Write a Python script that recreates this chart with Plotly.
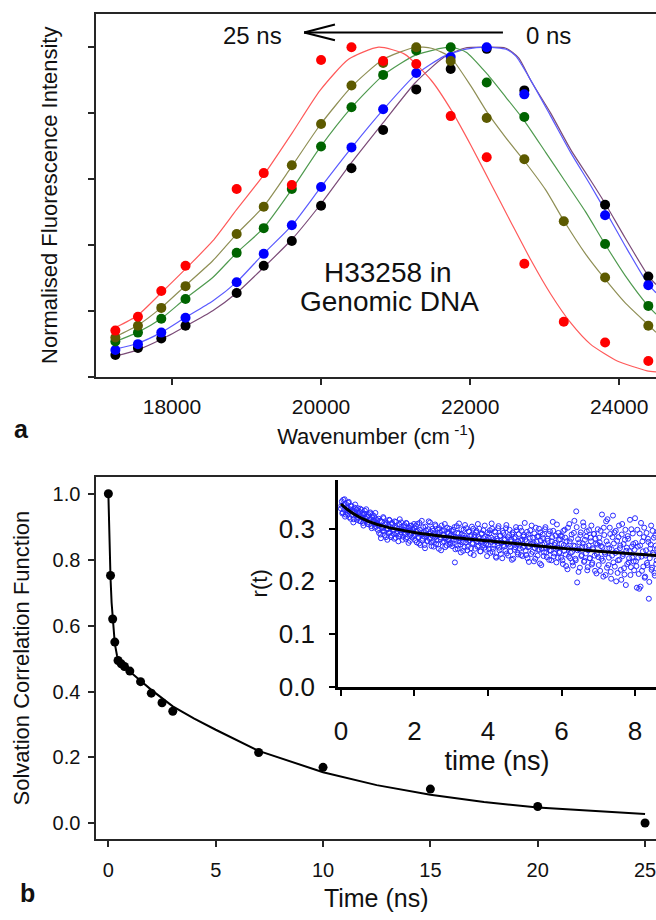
import plotly.graph_objects as go

W, H = 656, 920

# ---------------- panel a : time-resolved emission spectra ----------------
wavenumber = [17241, 17544, 17857, 18182, 18868, 19231, 19608, 20000, 20408,
              20833, 21277, 21739, 22222, 22727, 23256, 23810, 24390]
spec_25ns = [0.140, 0.182, 0.260, 0.337, 0.570, 0.618, 0.582, 0.961, 1.000,
             0.958, 0.949, 0.791, 0.666, 0.343, 0.167, 0.104, 0.048]
spec_olive = [0.119, 0.155, 0.209, 0.275, 0.433, 0.516, 0.642, 0.767, 0.884,
              0.952, 1.000, 0.958, 0.785, 0.660, 0.472, 0.301, 0.155]
spec_green = [0.107, 0.134, 0.176, 0.236, 0.376, 0.451, 0.570, 0.699, 0.818,
              0.916, 0.990, 1.000, 0.893, 0.788, None, 0.403, 0.215]
spec_blue = [0.081, 0.099, 0.134, 0.179, 0.287, 0.373, 0.460, 0.576, 0.696,
             0.812, 0.922, 0.970, 1.000, 0.857, None, 0.490, 0.278]
spec_0ns = [0.066, 0.087, 0.116, 0.155, 0.254, 0.337, 0.412, 0.519, 0.633,
            0.749, 0.872, 0.934, 0.995, 0.869, None, 0.522, 0.304]

# fitted line shapes
fit_red_x = [17240, 17533, 17853, 18173, 18547, 18867, 19240, 19613, 19987, 20373,
             20773, 21120, 21480, 21747, 22013, 22280, 22547, 22813, 23080, 23347,
             23613, 23973, 24373, 24493]
fit_red_y = [0.149, 0.185, 0.254, 0.325, 0.412, 0.507, 0.615, 0.740, 0.869, 0.964,
             1.000, 0.979, 0.899, 0.809, 0.701, 0.585, 0.469, 0.355, 0.251, 0.164,
             0.099, 0.048, 0.018, 0.015]
fit_olive_x = [17240, 17533, 17853, 18173, 18547, 18867, 19227, 19600, 19987, 20413,
               20840, 21267, 21480, 21733, 22013, 22227, 22480, 22720, 23013, 23253,
               23547, 23800, 24080, 24387, 24493]
fit_olive_y = [0.122, 0.155, 0.209, 0.275, 0.352, 0.433, 0.516, 0.636, 0.764, 0.881,
               0.964, 1.000, 0.997, 0.970, 0.881, 0.803, 0.725, 0.657, 0.567, 0.475,
               0.373, 0.299, 0.224, 0.158, 0.135]
fit_green_x = [17240, 17533, 17853, 18173, 18547, 18867, 19227, 19613, 19987, 20413,
               20840, 21267, 21733, 21947, 22227, 22480, 22720, 23013, 23253, 23547,
               23800, 24080, 24387, 24493]
fit_green_y = [0.107, 0.134, 0.176, 0.236, 0.301, 0.376, 0.451, 0.570, 0.696, 0.818,
               0.916, 0.976, 1.000, 0.985, 0.919, 0.848, 0.779, 0.681, 0.600, 0.501,
               0.406, 0.307, 0.215, 0.190]
fit_blue_x = [17240, 17533, 17853, 18173, 18547, 18867, 19227, 19613, 20000, 20413,
              20840, 21267, 21653, 21947, 22227, 22480, 22613, 22787, 23080, 23347,
              23613, 23813, 24080, 24387, 24493]
fit_blue_y = [0.084, 0.101, 0.134, 0.179, 0.230, 0.287, 0.373, 0.460, 0.576, 0.696,
              0.812, 0.916, 0.973, 0.994, 1.000, 0.994, 0.973, 0.910, 0.791, 0.681,
              0.582, 0.504, 0.397, 0.281, 0.255]
fit_0ns_x = [17240, 17533, 17853, 18173, 18547, 18867, 19227, 19613, 20000, 20413,
             20840, 21267, 21653, 21920, 22213, 22480, 22653, 22813, 23080, 23347,
             23613, 23813, 24080, 24387, 24493]
fit_0ns_y = [0.063, 0.081, 0.113, 0.152, 0.200, 0.254, 0.331, 0.418, 0.525, 0.651,
             0.773, 0.893, 0.970, 0.997, 1.000, 0.997, 0.967, 0.899, 0.800, 0.690,
             0.597, 0.525, 0.421, 0.307, 0.280]

# ---------------- panel b : solvation correlation function ----------------
scf_time = [0, 0.1, 0.2, 0.3, 0.45, 0.6, 0.75, 1.0, 1.5, 2.0, 2.5, 3.0, 7, 10, 15, 20, 25]
scf_value = [1.0, 0.752, 0.620, 0.550, 0.494, 0.484, 0.476, 0.462, 0.430, 0.395,
             0.366, 0.340, 0.215, 0.170, 0.104, 0.051, 0.001]
scf_fit_t = [0, 0.03, 0.07, 0.1, 0.15, 0.2, 0.25, 0.3, 0.4, 0.5, 0.7, 1.0, 1.5, 2, 3,
             4, 5, 7, 10, 12.5, 15, 17.5, 20, 22.5, 25]
scf_fit_v = [1.0, 0.90, 0.80, 0.745, 0.670, 0.620, 0.575, 0.545, 0.510, 0.492, 0.477,
             0.460, 0.432, 0.405, 0.355, 0.318, 0.284, 0.220, 0.155, 0.116, 0.087,
             0.065, 0.048, 0.037, 0.028]

# inset : anisotropy decay r(t); two interleaved channels, each sampled every 0.025 ns
aniso_dt = 0.0125
aniso_r_a = [
    0.338, 0.352, 0.331, 0.345, 0.356, 0.327, 0.341, 0.334, 0.349, 0.322,
    0.337, 0.344, 0.326, 0.333, 0.318, 0.340, 0.329, 0.336, 0.321, 0.331,
    0.315, 0.338, 0.324, 0.329, 0.311, 0.327, 0.334, 0.319, 0.323, 0.309,
    0.326, 0.317, 0.331, 0.305, 0.321, 0.313, 0.324, 0.302, 0.318, 0.311,
    0.298, 0.319, 0.306, 0.289, 0.314, 0.301, 0.322, 0.295, 0.308, 0.284,
    0.311, 0.299, 0.292, 0.316, 0.303, 0.287, 0.309, 0.297, 0.281, 0.305,
    0.313, 0.291, 0.300, 0.286, 0.318, 0.294, 0.303, 0.279, 0.298, 0.307,
    0.289, 0.311, 0.284, 0.296, 0.302, 0.277, 0.305, 0.292, 0.299, 0.286,
    0.301, 0.278, 0.295, 0.309, 0.284, 0.272, 0.298, 0.288, 0.315, 0.281,
    0.293, 0.269, 0.304, 0.286, 0.277, 0.299, 0.291, 0.312, 0.274, 0.287,
    0.296, 0.266, 0.283, 0.305, 0.279, 0.292, 0.270, 0.301, 0.284, 0.259,
    0.296, 0.288, 0.276, 0.309, 0.282, 0.268, 0.293, 0.280, 0.300, 0.273,
    0.289, 0.267, 0.298, 0.279, 0.236, 0.284, 0.305, 0.262, 0.291, 0.276,
    0.270, 0.299, 0.283, 0.258, 0.287, 0.307, 0.274, 0.281, 0.266, 0.295,
    0.278, 0.253, 0.288, 0.271, 0.300, 0.284, 0.262, 0.293, 0.276, 0.309,
    0.268, 0.281, 0.257, 0.290, 0.275, 0.297, 0.264, 0.285, 0.271, 0.248,
    0.283, 0.262, 0.297, 0.275, 0.310, 0.256, 0.280, 0.268, 0.293, 0.245,
    0.277, 0.301, 0.264, 0.286, 0.252, 0.274, 0.296, 0.269, 0.281, 0.258,
    0.307, 0.272, 0.249, 0.288, 0.266, 0.279, 0.241, 0.293, 0.271, 0.260,
    0.284, 0.297, 0.255, 0.276, 0.268, 0.302, 0.250, 0.279, 0.264, 0.288,
    0.311, 0.258, 0.276, 0.244, 0.289, 0.266, 0.297, 0.252, 0.271, 0.283,
    0.238, 0.263, 0.302, 0.275, 0.249, 0.286, 0.260, 0.293, 0.231, 0.270,
    0.282, 0.255, 0.299, 0.264, 0.246, 0.277, 0.290, 0.259, 0.268, 0.240,
    0.284, 0.296, 0.253, 0.273, 0.262, 0.308, 0.245, 0.279, 0.256, 0.287,
    0.271, 0.240, 0.296, 0.258, 0.283, 0.229, 0.265, 0.302, 0.247, 0.276,
    0.254, 0.289, 0.236, 0.268, 0.315, 0.243, 0.333, 0.198, 0.280, 0.261,
    0.226, 0.293, 0.250, 0.272, 0.305, 0.239, 0.266, 0.285, 0.221, 0.259,
    0.297, 0.244, 0.276, 0.232, 0.263, 0.290, 0.249, 0.281, 0.215, 0.270,
    0.246, 0.283, 0.220, 0.267, 0.327, 0.239, 0.302, 0.255, 0.212, 0.276,
    0.318, 0.231, 0.263, 0.290, 0.205, 0.249, 0.325, 0.272, 0.228, 0.296,
    0.258, 0.216, 0.284, 0.241, 0.268, 0.203, 0.309, 0.252, 0.225, 0.279,
    0.193, 0.264, 0.286, 0.236, 0.257, 0.212, 0.299, 0.245, 0.271, 0.221,
    0.320, 0.238, 0.188, 0.266, 0.214, 0.291, 0.190, 0.247, 0.276, 0.228,
    0.302, 0.209, 0.259, 0.235, 0.281, 0.167, 0.244, 0.270, 0.222, 0.296,
    0.251, 0.216, 0.287, 0.233, 0.262,
]
aniso_r_b = [
    0.344, 0.329, 0.355, 0.336, 0.323, 0.347, 0.339, 0.328, 0.351, 0.333,
    0.319, 0.342, 0.335, 0.312, 0.330, 0.346, 0.325, 0.317, 0.339, 0.327,
    0.332, 0.314, 0.336, 0.320, 0.306, 0.328, 0.316, 0.337, 0.322, 0.313,
    0.308, 0.329, 0.318, 0.301, 0.326, 0.315, 0.309, 0.330, 0.304, 0.316,
    0.307, 0.292, 0.315, 0.282, 0.303, 0.296, 0.320, 0.288, 0.309, 0.300,
    0.279, 0.306, 0.317, 0.293, 0.284, 0.311, 0.298, 0.290, 0.314, 0.283,
    0.302, 0.295, 0.276, 0.308, 0.289, 0.312, 0.297, 0.285, 0.304, 0.292,
    0.281, 0.310, 0.294, 0.273, 0.301, 0.288, 0.306, 0.283, 0.295, 0.309,
    0.287, 0.305, 0.274, 0.296, 0.283, 0.311, 0.269, 0.292, 0.278, 0.303,
    0.285, 0.263, 0.297, 0.289, 0.276, 0.314, 0.281, 0.294, 0.267, 0.300,
    0.277, 0.290, 0.308, 0.271, 0.286, 0.298, 0.262, 0.293, 0.280, 0.306,
    0.274, 0.289, 0.297, 0.265, 0.283, 0.302, 0.278, 0.291, 0.270, 0.287,
    0.296, 0.272, 0.285, 0.303, 0.261, 0.279, 0.292, 0.268, 0.310, 0.282,
    0.255, 0.289, 0.274, 0.298, 0.265, 0.283, 0.301, 0.259, 0.277, 0.294,
    0.286, 0.263, 0.304, 0.273, 0.250, 0.288, 0.279, 0.296, 0.266, 0.284,
    0.300, 0.257, 0.275, 0.291, 0.269, 0.282, 0.306, 0.260, 0.278, 0.293,
    0.269, 0.291, 0.254, 0.283, 0.300, 0.262, 0.276, 0.295, 0.247, 0.281,
    0.268, 0.305, 0.259, 0.287, 0.273, 0.244, 0.292, 0.266, 0.279, 0.301,
    0.253, 0.284, 0.270, 0.298, 0.257, 0.276, 0.289, 0.243, 0.282, 0.265,
    0.303, 0.271, 0.251, 0.290, 0.262, 0.278, 0.296, 0.248, 0.285, 0.267,
    0.279, 0.250, 0.294, 0.265, 0.237, 0.283, 0.271, 0.306, 0.256, 0.274,
    0.291, 0.243, 0.268, 0.285, 0.260, 0.300, 0.234, 0.277, 0.262, 0.289,
    0.248, 0.272, 0.303, 0.255, 0.281, 0.266, 0.241, 0.295, 0.258, 0.276,
    0.313, 0.247, 0.269, 0.287, 0.236, 0.264, 0.292, 0.254, 0.280, 0.245,
    0.285, 0.233, 0.269, 0.298, 0.251, 0.276, 0.223, 0.262, 0.309, 0.244,
    0.281, 0.256, 0.230, 0.292, 0.267, 0.240, 0.303, 0.259, 0.218, 0.274,
    0.288, 0.248, 0.265, 0.312, 0.237, 0.279, 0.253, 0.295, 0.227, 0.268,
    0.244, 0.283, 0.306, 0.235, 0.261, 0.290, 0.220, 0.272, 0.252, 0.299,
    0.231, 0.274, 0.296, 0.243, 0.265, 0.209, 0.288, 0.252, 0.314, 0.226,
    0.270, 0.245, 0.302, 0.218, 0.261, 0.284, 0.236, 0.293, 0.254, 0.200,
    0.277, 0.240, 0.306, 0.263, 0.222, 0.289, 0.248, 0.271, 0.213, 0.298,
    0.258, 0.233, 0.281, 0.244, 0.317, 0.227, 0.266, 0.291, 0.238, 0.260,
    0.273, 0.229, 0.298, 0.245, 0.186, 0.268, 0.311, 0.220, 0.257, 0.284,
    0.207, 0.249, 0.292, 0.231, 0.275, 0.199, 0.262, 0.306, 0.226, 0.254,
    0.283, 0.211, 0.268, 0.240, 0.295,
]
aniso_r = [v for pair in zip(aniso_r_a, aniso_r_b) for v in pair]
aniso_t = [i * aniso_dt for i in range(len(aniso_r))]
aniso_fit_t = [0, 0.15, 0.4, 0.75, 1.2, 2, 3, 4, 5, 6, 7, 8, 8.6]
aniso_fit_r = [0.347, 0.338, 0.326, 0.314, 0.304, 0.293, 0.284, 0.277, 0.270,
               0.263, 0.257, 0.252, 0.249]

FONT = "Liberation Sans, Arial, sans-serif"
AX = "#262626"


def px(x):
    return x / W


def py(y):
    return 1 - y / H


fig = go.Figure()

# panel a fits (drawn under the points)
fits = [
    (fit_0ns_x, fit_0ns_y, "#7b4b78"),
    (fit_blue_x, fit_blue_y, "#5a5aff"),
    (fit_green_x, fit_green_y, "#4f9a4f"),
    (fit_olive_x, fit_olive_y, "#8f8f55"),
    (fit_red_x, fit_red_y, "#ff5a5a"),
]
for fx, fy, col in fits:
    fig.add_trace(go.Scatter(x=fx, y=fy, mode="lines", line=dict(color=col, width=1.2, shape="spline", smoothing=0.6),
                             xaxis="x", yaxis="y", hoverinfo="skip"))

pts = [
    (spec_0ns, "#000000"),
    (spec_blue, "#0000ff"),
    (spec_green, "#006400"),
    (spec_olive, "#5c5a00"),
    (spec_25ns, "#ff0000"),
]
for vals, col in pts:
    fig.add_trace(go.Scatter(x=wavenumber, y=vals, mode="markers",
                             marker=dict(color=col, size=10, line=dict(width=0)),
                             xaxis="x", yaxis="y"))

# panel b
fig.add_trace(go.Scatter(x=scf_fit_t, y=scf_fit_v, mode="lines", line=dict(color="black", width=2),
                         xaxis="x2", yaxis="y2"))
fig.add_trace(go.Scatter(x=scf_time, y=scf_value, mode="markers", marker=dict(color="black", size=9),
                         xaxis="x2", yaxis="y2"))

# inset
fig.add_trace(go.Scatter(x=aniso_t, y=aniso_r, mode="markers",
                         marker=dict(symbol="circle-open", color="#2a2aff", size=5, line=dict(width=1)),
                         xaxis="x3", yaxis="y3"))
fig.add_trace(go.Scatter(x=aniso_fit_t, y=aniso_fit_r, mode="lines", line=dict(color="black", width=3, shape="spline"),
                         xaxis="x3", yaxis="y3"))

axis_common = dict(showgrid=False, zeroline=False, showline=True, linecolor=AX, linewidth=2,
                   ticks="outside", tickcolor=AX, tickwidth=1.5, ticklen=6,
                   tickfont=dict(family=FONT, size=20, color="#111"))

fig.update_layout(
    width=W, height=H, margin=dict(l=0, r=0, t=0, b=0), autosize=False,
    paper_bgcolor="white", plot_bgcolor="white", showlegend=False,
    font=dict(family=FONT, color="#111"),
    xaxis=dict(axis_common, domain=[px(93), 1], range=[16987, 24493], anchor="y", mirror=True,
               tickvals=[18000, 20000, 22000, 24000], ticktext=["18000", "20000", "22000", "24000"],
               tickfont=dict(family=FONT, size=21, color="#111"), ticklabelstandoff=4,
               ticklabeloverflow="allow",
               title=dict(text="Wavenumber (cm<sup> -1</sup>)", font=dict(family=FONT, size=22), standoff=12)),
    yaxis=dict(axis_common, domain=[py(383), py(14)], range=[0, 1.1015], anchor="x",
               tickvals=[0, 0.2, 0.4, 0.6, 0.8, 1.0], showticklabels=False,
               title=dict(text="Normalised Fluorescence Intensity", font=dict(family=FONT, size=22), standoff=25)),
    xaxis2=dict(axis_common, domain=[px(93), 1], range=[-0.556, 25.51], anchor="y2", mirror=True,
                tickvals=[0, 5, 10, 15, 20, 25], ticklabelstandoff=6, ticklabeloverflow="allow",
                title=dict(text="Time (ns)", font=dict(family=FONT, size=25), standoff=9)),
    yaxis2=dict(axis_common, domain=[py(853), py(485)], range=[-0.0478, 1.0507], anchor="x2",
                tickvals=[0, 0.2, 0.4, 0.6, 0.8, 1.0], tickformat=".1f", ticklabelstandoff=4,
                title=dict(text="Solvation Correlation Function", font=dict(family=FONT, size=22), standoff=17)),
    xaxis3=dict(axis_common, domain=[px(336), 1], range=[-0.081, 8.57], anchor="y3",
                linecolor="black", linewidth=2.5, tickcolor="black", tickwidth=2, ticklen=7,
                tickvals=[0, 2, 4, 6, 8], tickfont=dict(family=FONT, size=26, color="#111"),
                ticklabelstandoff=12, ticklabeloverflow="allow",
                title=dict(text="time (ns)", font=dict(family=FONT, size=27), standoff=3)),
    yaxis3=dict(axis_common, domain=[py(698), py(488)], range=[0, 0.3925], anchor="x3",
                linecolor="black", linewidth=2.5, tickcolor="black", tickwidth=2, ticklen=6,
                tickvals=[0, 0.1, 0.2, 0.3], tickformat=".1f", tickfont=dict(family=FONT, size=26, color="#111"),
                ticklabelstandoff=9,
                title=dict(text="r(t)", font=dict(family=FONT, size=22), standoff=6)),
)

# arrow 0 ns -> 25 ns
shape_line = dict(color="black", width=2)
fig.add_shape(type="line", xref="paper", yref="paper", x0=px(302), x1=px(502), y0=py(33), y1=py(33), line=shape_line)
fig.add_shape(type="line", xref="paper", yref="paper", x0=px(302), x1=px(333), y0=py(33), y1=py(25), line=shape_line)
fig.add_shape(type="line", xref="paper", yref="paper", x0=px(302), x1=px(333), y0=py(33), y1=py(41), line=shape_line)

ann = [
    dict(text="25 ns", x=px(250), y=py(36), size=24),
    dict(text="0 ns", x=px(548), y=py(36), size=24),
    dict(text="H33258 in", x=px(386), y=py(277), size=28),
    dict(text="Genomic DNA", x=px(388), y=py(307), size=28),
]
for a in ann:
    fig.add_annotation(text=a["text"], x=a["x"], y=a["y"], xref="paper", yref="paper",
                       showarrow=False, xanchor="center", yanchor="middle",
                       font=dict(family=FONT, size=a["size"], color="#111"))

fig.add_annotation(text="<b>a</b>", x=px(18), y=py(436), xref="paper", yref="paper", showarrow=False,
                   xanchor="center", yanchor="middle", font=dict(family=FONT, size=25, color="#111"))
fig.add_annotation(text="<b>b</b>", x=px(24), y=py(908), xref="paper", yref="paper", showarrow=False,
                   xanchor="center", yanchor="middle", font=dict(family=FONT, size=25, color="#111"))

fig.write_html("out.html", config={"displayModeBar": False},
               post_script="document.body.style.margin='0';")
